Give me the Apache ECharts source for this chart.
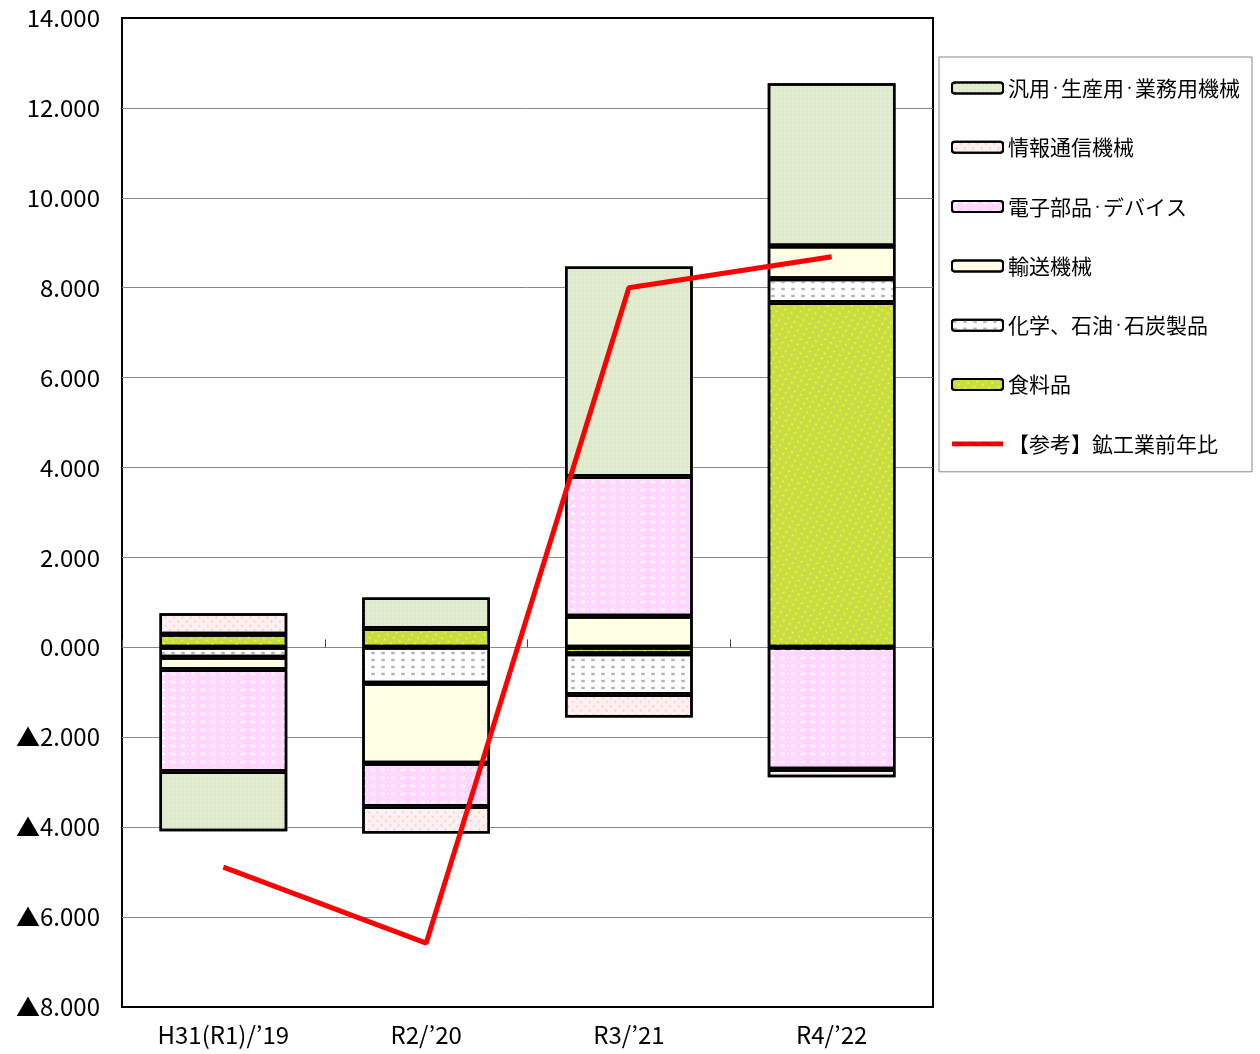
<!DOCTYPE html>
<html>
<head>
<meta charset="utf-8">
<script src="https://cdn.jsdelivr.net/npm/echarts@6/dist/echarts.min.js"></script>
<style>
html,body{margin:0;padding:0;background:#fff;}
#main{width:1260px;height:1054px;}
</style>
</head>
<body>
<div id="main"></div>
<script>
var categories = ['H31(R1)/’19', 'R2/’20', 'R3/’21', 'R4/’22'];
var seriesNames = ['汎用・生産用・業務用機械', '情報通信機械', '電子部品・デバイス', '輸送機械', '化学、石油・石炭製品', '食料品', '【参考】鉱工業前年比'];
var food = [0.29, 0.42, -0.14, 7.67];
var chem = [-0.22, -0.80, -0.91, 0.53];
var transport = [-0.27, -1.78, 0.69, 0.73];
var electronic = [-2.27, -0.96, 3.11, -2.71];
var ict = [0.47, -0.60, -0.51, -0.18];
var general = [-1.33, 0.69, 4.67, 3.62];
var mining = [-4.89, -6.58, 8.00, 8.69];
var yMin = -8, yMax = 14, yStep = 2;

var FONT = '"Noto Sans CJK JP", sans-serif';
var chart = echarts.init(document.getElementById('main'));

function bar(name, data, color, decal) {
  return {
    name: name, type: 'bar', stack: 'total', data: data, barWidth: '63%',
    itemStyle: { color: color, borderColor: '#000', borderWidth: 2.5, decal: decal }
  };
}

var legendData = seriesNames.slice(0, 6).map(function (n) { return { name: n }; });
legendData.push({ name: seriesNames[6], icon: 'path://M0,0L54,0L54,5L0,5Z', itemStyle: { color: '#ff0000', borderWidth: 0 } });

chart.setOption({
  animation: false,
  aria: { enabled: true, decal: { show: true } },
  grid: { left: 122, top: 18, width: 811, height: 989, show: true, borderColor: '#000', borderWidth: 2, backgroundColor: 'transparent' },
  legend: {
    orient: 'vertical', left: 939, top: 57,
    data: legendData,
    itemWidth: 51, itemHeight: 11, itemGap: 37.3, itemTextGap: 6,
    padding: [20, 12, 17, 12],
    borderColor: '#888', borderWidth: 1,
    formatter: function (name) { return name.replace(/・/g, '{d|・}'); },
    textStyle: {
      fontFamily: FONT, fontSize: 21, color: '#000', lineHeight: 22,
      rich: { d: { fontFamily: FONT, fontSize: 11, lineHeight: 22, color: '#000' } }
    },
    selectedMode: false
  },
  xAxis: [{
    type: 'category', data: categories, position: 'bottom',
    axisLine: { show: false, onZero: false }, axisTick: { show: false },
    axisLabel: { fontFamily: FONT, fontSize: 24, color: '#000', margin: 16 }
  }, {
    type: 'category', data: categories, position: 'bottom',
    axisLine: { show: true, onZero: true, lineStyle: { color: '#888', width: 1 } },
    axisTick: { show: true, inside: true, length: 8, lineStyle: { color: '#444', width: 1 } },
    axisLabel: { show: false }
  }],
  yAxis: {
    type: 'value', min: yMin, max: yMax, interval: yStep,
    axisLine: { show: false }, axisTick: { show: false },
    splitLine: { show: true, showMinLine: false, showMaxLine: false, lineStyle: { color: '#888', width: 1 } },
    axisLabel: {
      fontFamily: FONT, fontSize: 24, color: '#000', margin: 22,
      formatter: function (v) { return v < 0 ? '▲' + Math.abs(v).toFixed(3) : v.toFixed(3); }
    }
  },
  series: [
    bar(seriesNames[5], food, '#c8dc48', { symbol: 'rect', color: '#ffff00', symbolSize: 0.5, dashArrayX: [4, 3], dashArrayY: [3, 3] }),
    bar(seriesNames[4], chem, '#ffffff', { symbol: 'rect', color: '#b5b5b5', symbolSize: 0.6, dashArrayX: [6, 4], dashArrayY: [4, 3] }),
    bar(seriesNames[3], transport, '#ffffe6', { symbol: 'rect', color: '#fbfbd8', symbolSize: 0.3, dashArrayX: [3, 3], dashArrayY: [3, 3] }),
    bar(seriesNames[2], electronic, '#ffd7ff', { symbol: 'rect', color: '#ffffff', symbolSize: 0.6, dashArrayX: [6, 4], dashArrayY: [4, 4] }),
    bar(seriesNames[1], ict, '#fdf0f0', { symbol: 'rect', color: '#e8b8b8', symbolSize: 0.5, dashArrayX: [3, 3], dashArrayY: [3, 3], rotation: Math.PI / 4 }),
    bar(seriesNames[0], general, '#dfe9cc', { symbol: 'rect', color: '#f3f7ea', symbolSize: 0.6, dashArrayX: [2, 2], dashArrayY: [2, 2] }),
    {
      name: seriesNames[6], type: 'line', data: mining, symbol: 'none', z: 5,
      lineStyle: { color: '#ff0000', width: 5 }, itemStyle: { color: '#ff0000' }
    }
  ]
});
</script>
</body>
</html>
